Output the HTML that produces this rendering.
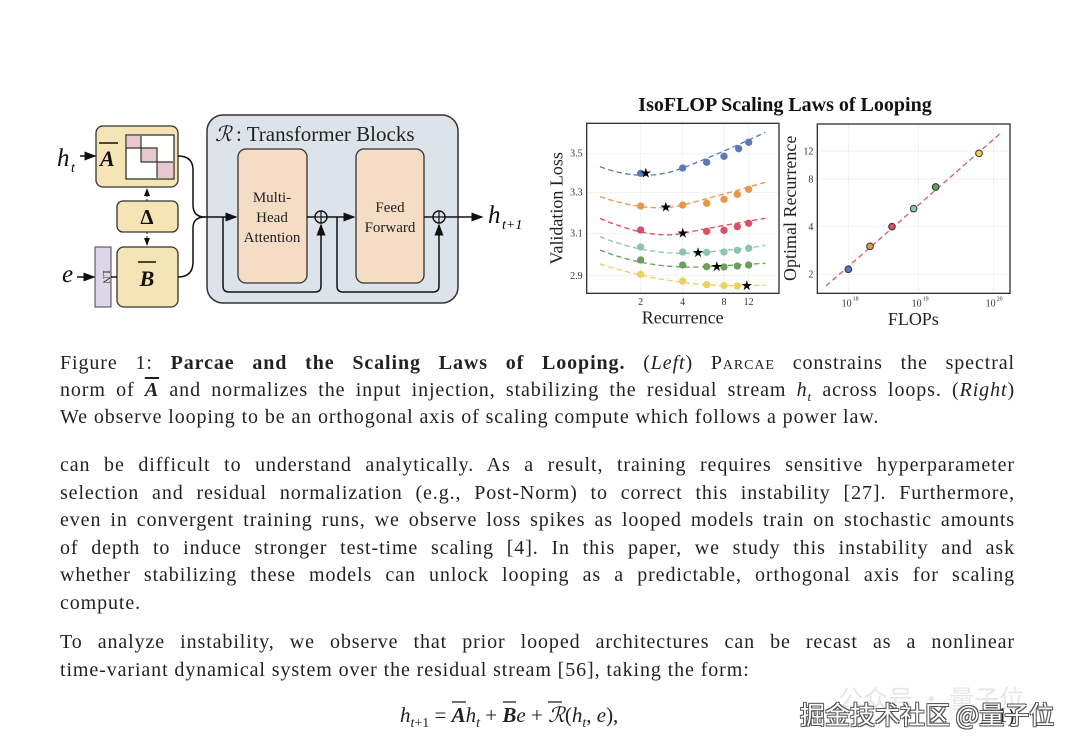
<!DOCTYPE html>
<html><head><meta charset="utf-8"><style>
html,body{margin:0;padding:0;background:#fff;}
body{width:1080px;height:747px;position:relative;overflow:hidden;font-family:"Liberation Serif",serif;color:#222;}
.ln{position:absolute;left:60px;width:955px;font-size:20px;letter-spacing:0.9px;line-height:27px;white-space:nowrap;text-align:justify;text-align-last:justify;}
.ln.l{text-align-last:left;}
.sc{font-variant:small-caps;}
.ov{text-decoration:overline;font-weight:bold;font-style:italic;}
.wm{position:absolute;left:800px;top:696px;font-family:"Noto Sans CJK SC",sans-serif;font-size:25px;color:#fff;text-shadow:-1px -1px 0 #555,1px -1px 0 #555,-1px 1px 0 #555,1px 1px 0 #555;}
.wm0{position:absolute;left:838px;top:680px;font-family:"Noto Sans CJK SC",sans-serif;font-size:25px;color:#e6e6e6;}
</style></head><body>
<svg width="1080" height="747" style="position:absolute;left:0;top:0" font-family="Liberation Serif, serif">
<defs><marker id="ar" markerWidth="8" markerHeight="8" refX="7" refY="4" orient="auto"><path d="M0,1 L8,4 L0,7z" fill="#111"/></marker></defs>
<rect x="207" y="115" width="251" height="188" rx="16" fill="#dde3ea" stroke="#333" stroke-width="1.5"/>
<text x="215" y="141" font-size="21" fill="#222" font-style="italic">ℛ</text><text x="236" y="141" font-size="21" fill="#222">: Transformer Blocks</text>
<rect x="238" y="149" width="69" height="134" rx="8" fill="#f5dcc5" stroke="#333" stroke-width="1.3"/>
<rect x="356" y="149" width="68" height="134" rx="8" fill="#f5dcc5" stroke="#333" stroke-width="1.3"/>
<text font-size="15" text-anchor="middle" fill="#222"><tspan x="272" y="202">Multi-</tspan><tspan x="272" y="222">Head</tspan><tspan x="272" y="242">Attention</tspan><tspan x="390" y="212">Feed</tspan><tspan x="390" y="232">Forward</tspan></text>
<rect x="96" y="126" width="82" height="61" rx="7" fill="#f5e4b5" stroke="#333" stroke-width="1.3"/>
<rect x="126" y="135" width="48" height="44" fill="#fff" stroke="#333" stroke-width="1.3"/>
<rect x="127" y="136" width="14" height="12" fill="#e8c8cc"/><rect x="141" y="148" width="16" height="14" fill="#e8c8cc"/><rect x="157" y="162" width="16" height="16" fill="#e8c8cc"/>
<path d="M126,148 H141 V162 H157 V178" fill="none" stroke="#333" stroke-width="1.2"/><path d="M141,136 V148 H157 V162 H173" fill="none" stroke="#333" stroke-width="1.2"/>
<text x="100" y="166" font-size="22" font-weight="bold" font-style="italic" fill="#111">A</text><line x1="99" y1="143" x2="118" y2="143" stroke="#111" stroke-width="1.5"/>
<rect x="117" y="201" width="61" height="31" rx="6" fill="#f5e4b5" stroke="#333" stroke-width="1.3"/>
<text x="147" y="224" font-size="21" font-weight="bold" text-anchor="middle" fill="#111">Δ</text>
<rect x="117" y="247" width="61" height="60" rx="7" fill="#f5e4b5" stroke="#333" stroke-width="1.3"/>
<text x="147" y="286" font-size="22" font-weight="bold" font-style="italic" text-anchor="middle" fill="#111">B</text><line x1="138" y1="262" x2="156" y2="262" stroke="#111" stroke-width="1.5"/>
<rect x="95" y="247" width="16" height="60" fill="#ddd5e8" stroke="#444" stroke-width="1"/>
<text x="103" y="277" font-size="10" text-anchor="middle" transform="rotate(90 103 277)" fill="#333">LN</text>
<line x1="147" y1="201" x2="147" y2="189" stroke="#222" stroke-dasharray="2,2" marker-end="url(#ar)"/>
<line x1="147" y1="232" x2="147" y2="245" stroke="#222" stroke-dasharray="2,2" marker-end="url(#ar)"/>
<text x="57" y="166" font-size="25" font-style="italic" fill="#111">h</text><text x="71" y="172" font-size="14" font-style="italic">t</text>
<line x1="80" y1="156" x2="95" y2="156" stroke="#111" stroke-width="1.5" marker-end="url(#ar)"/>
<text x="62" y="282" font-size="25" font-style="italic" fill="#111">e</text>
<line x1="77" y1="277" x2="94" y2="277" stroke="#111" stroke-width="1.5" marker-end="url(#ar)"/>
<line x1="111" y1="277" x2="117" y2="277" stroke="#111" stroke-width="1.5"/>
<path d="M178,156 Q193,156 193,170 V205 Q193,217 205,217" fill="none" stroke="#111" stroke-width="1.5"/>
<path d="M178,277 Q193,277 193,262 V228 Q193,217 205,217" fill="none" stroke="#111" stroke-width="1.5"/>
<line x1="205" y1="217" x2="236" y2="217" stroke="#111" stroke-width="1.5" marker-end="url(#ar)"/>
<path d="M223,217 V286 Q223,292 229,292 H315 Q321,292 321,286 V225" fill="none" stroke="#111" stroke-width="1.5" marker-end="url(#ar)"/>
<circle cx="321" cy="217" r="6" fill="none" stroke="#111" stroke-width="1.4"/><path d="M315,217H327M321,211V223" stroke="#111" stroke-width="1.2"/>
<line x1="307" y1="217" x2="315" y2="217" stroke="#111" stroke-width="1.5"/>
<line x1="327" y1="217" x2="354" y2="217" stroke="#111" stroke-width="1.5" marker-end="url(#ar)"/>
<path d="M337,217 V286 Q337,292 343,292 H433 Q439,292 439,286 V225" fill="none" stroke="#111" stroke-width="1.5" marker-end="url(#ar)"/>
<circle cx="439" cy="217" r="6" fill="none" stroke="#111" stroke-width="1.4"/><path d="M433,217H445M439,211V223" stroke="#111" stroke-width="1.2"/>
<line x1="424" y1="217" x2="433" y2="217" stroke="#111" stroke-width="1.5"/>
<line x1="445" y1="217" x2="482" y2="217" stroke="#111" stroke-width="1.5" marker-end="url(#ar)"/>
<text x="488" y="223" font-size="25" font-style="italic" fill="#111">h</text><text x="502" y="229" font-size="14" font-style="italic">t+1</text>
<text x="785" y="111" font-size="20" font-weight="bold" text-anchor="middle" fill="#111">IsoFLOP Scaling Laws of Looping</text>
<g transform="translate(540,90) scale(0.33333)">
<rect x="140" y="100" width="577" height="510" fill="#fff"/>
<g stroke="#ebebeb" stroke-width="2"><line x1="302" y1="100" x2="302" y2="610"/><line x1="428" y1="100" x2="428" y2="610"/><line x1="552" y1="100" x2="552" y2="610"/><line x1="626" y1="100" x2="626" y2="610"/><line x1="140" y1="190" x2="717" y2="190"/><line x1="140" y1="307" x2="717" y2="307"/><line x1="140" y1="430" x2="717" y2="430"/><line x1="140" y1="557" x2="717" y2="557"/></g>
<rect x="140" y="100" width="577" height="510" fill="none" stroke="#333" stroke-width="4"/>
<g font-size="30" fill="#333" text-anchor="end"><text x="128" y="200">3.5</text><text x="128" y="317">3.3</text><text x="128" y="440">3.1</text><text x="128" y="567">2.9</text></g>
<g font-size="30" fill="#333" text-anchor="middle"><text x="302" y="645">2</text><text x="428" y="645">4</text><text x="552" y="645">8</text><text x="626" y="645">12</text></g>
<text x="428" y="700" font-size="54" text-anchor="middle" fill="#222">Recurrence</text>
<text x="0" y="0" font-size="54" text-anchor="middle" fill="#222" transform="translate(68,355) rotate(-90)">Validation Loss</text>
<g fill="none" stroke-width="4" stroke-dasharray="16,10">
<path stroke="#5a7bb5" d="M180,230 Q310,280 428,234 T676,127"/>
<path stroke="#e8964a" d="M180,320 Q330,370 428,345 T676,277"/>
<path stroke="#d6506a" d="M180,385 Q330,450 428,430 T676,385"/>
<path stroke="#8cc4b4" d="M180,440 Q330,500 476,488 T676,466"/>
<path stroke="#6aa05a" d="M180,480 Q330,540 500,530 T676,520"/>
<path stroke="#ecd060" d="M180,522 Q360,580 552,587 L676,586"/>
</g>
<g fill="#5a7bb5"><circle cx="302" cy="250" r="11"/><circle cx="428" cy="234" r="11"/><circle cx="500" cy="217" r="11"/><circle cx="552" cy="199" r="11"/><circle cx="596" cy="176" r="11"/><circle cx="626" cy="157" r="11"/></g>
<g fill="#e8964a"><circle cx="302" cy="348" r="11"/><circle cx="428" cy="345" r="11"/><circle cx="500" cy="340" r="11"/><circle cx="552" cy="328" r="11"/><circle cx="592" cy="313" r="11"/><circle cx="626" cy="298" r="11"/></g>
<g fill="#d6506a"><circle cx="302" cy="420" r="11"/><circle cx="500" cy="424" r="11"/><circle cx="552" cy="421" r="11"/><circle cx="592" cy="410" r="11"/><circle cx="626" cy="400" r="11"/></g>
<g fill="#8cc4b4"><circle cx="302" cy="471" r="11"/><circle cx="428" cy="486" r="11"/><circle cx="500" cy="487" r="11"/><circle cx="552" cy="486" r="11"/><circle cx="592" cy="481" r="11"/><circle cx="626" cy="475" r="11"/></g>
<g fill="#6aa05a"><circle cx="302" cy="510" r="11"/><circle cx="428" cy="525" r="11"/><circle cx="500" cy="530" r="11"/><circle cx="552" cy="531" r="11"/><circle cx="592" cy="528" r="11"/><circle cx="626" cy="525" r="11"/></g>
<g fill="#ecd060"><circle cx="302" cy="553" r="11"/><circle cx="428" cy="573" r="11"/><circle cx="500" cy="584" r="11"/><circle cx="552" cy="587" r="11"/><circle cx="592" cy="588" r="11"/></g>
<g font-size="40" text-anchor="middle" fill="#000"><text x="317" y="262">★</text><text x="377" y="364">★</text><text x="428" y="442">★</text><text x="474" y="501">★</text><text x="530" y="543">★</text><text x="620" y="600">★</text></g>
</g>
<g transform="translate(780,110) scale(0.33333)">
<g stroke="#ebebeb" stroke-width="2"><line x1="205" y1="42" x2="205" y2="550"/><line x1="415" y1="42" x2="415" y2="550"/><line x1="640" y1="42" x2="640" y2="550"/><line x1="112" y1="123" x2="690" y2="123"/><line x1="112" y1="207" x2="690" y2="207"/><line x1="112" y1="350" x2="690" y2="350"/><line x1="112" y1="493" x2="690" y2="493"/></g>
<rect x="112" y="42" width="578" height="508" fill="none" stroke="#333" stroke-width="4"/>
<g font-size="30" fill="#333" text-anchor="end"><text x="100" y="133">12</text><text x="100" y="217">8</text><text x="100" y="360">4</text><text x="100" y="503">2</text></g>
<g font-size="30" fill="#333" text-anchor="middle"><text x="200" y="590">10</text><text x="410" y="590">10</text><text x="632" y="590">10</text></g>
<g font-size="18" fill="#333"><text x="218" y="572">18</text><text x="428" y="572">19</text><text x="650" y="572">20</text></g>
<text x="400" y="645" font-size="54" text-anchor="middle" fill="#222">FLOPs</text>
<text x="0" y="0" font-size="54" text-anchor="middle" fill="#222" transform="translate(48,295) rotate(-90)">Optimal Recurrence</text>
<line x1="138" y1="528" x2="666" y2="66" stroke="#d06070" stroke-width="4" stroke-dasharray="16,10"/>
<g stroke="#333" stroke-width="3"><circle cx="205" cy="478" r="10" fill="#5a7bb5"/><circle cx="270" cy="409" r="10" fill="#e8964a"/><circle cx="336" cy="350" r="10" fill="#d6506a"/><circle cx="401" cy="296" r="10" fill="#8cc4b4"/><circle cx="467" cy="231" r="10" fill="#6aa05a"/><circle cx="597" cy="130" r="10" fill="#ecd060"/></g>
</g>
<text x="400" y="722" font-size="21" fill="#222"><tspan font-style="italic">h</tspan><tspan font-size="14" dy="5" font-style="italic">t</tspan><tspan font-size="14">+1</tspan><tspan dy="-5"> = </tspan><tspan font-weight="bold" font-style="italic">A</tspan><tspan font-style="italic">h</tspan><tspan font-size="14" dy="5" font-style="italic">t</tspan><tspan dy="-5"> + </tspan><tspan font-weight="bold" font-style="italic">B</tspan><tspan font-style="italic">e</tspan><tspan> + </tspan><tspan font-style="italic">ℛ</tspan><tspan>(</tspan><tspan font-style="italic">h</tspan><tspan font-size="14" dy="5" font-style="italic">t</tspan><tspan dy="-5">, </tspan><tspan font-style="italic">e</tspan><tspan>),</tspan></text>
<line x1="452" y1="702" x2="466" y2="702" stroke="#222" stroke-width="1.3"/><line x1="503" y1="702" x2="516" y2="702" stroke="#222" stroke-width="1.3"/><line x1="548" y1="702" x2="562" y2="702" stroke="#222" stroke-width="1.3"/>
<text x="990" y="722" font-size="21" fill="#222">(1)</text>
</svg>
<div class="ln" style="top:350px">Figure 1: <b>Parcae and the Scaling Laws of Looping.</b> (<i>Left</i>) <span class="sc">Parcae</span> constrains the spectral</div>
<div class="ln" style="top:377px">norm of <span class="ov">A</span> and normalizes the input injection, stabilizing the residual stream <i>h<sub style="font-size:13px">t</sub></i> across loops. (<i>Right</i>)</div>
<div class="ln l" style="top:404px">We observe looping to be an orthogonal axis of scaling compute which follows a power law.</div>
<div class="ln" style="top:452px">can be difficult to understand analytically. As a result, training requires sensitive hyperparameter</div>
<div class="ln" style="top:480px">selection and residual normalization (e.g., Post-Norm) to correct this instability [27]. Furthermore,</div>
<div class="ln" style="top:507px">even in convergent training runs, we observe loss spikes as looped models train on stochastic amounts</div>
<div class="ln" style="top:535px">of depth to induce stronger test-time scaling [4]. In this paper, we study this instability and ask</div>
<div class="ln" style="top:562px">whether stabilizing these models can unlock looping as a predictable, orthogonal axis for scaling</div>
<div class="ln l" style="top:590px">compute.</div>
<div class="ln" style="top:629px">To analyze instability, we observe that prior looped architectures can be recast as a nonlinear</div>
<div class="ln l" style="top:657px">time-variant dynamical system over the residual stream [56], taking the form:</div>
<div class="wm0">公众号 · 量子位</div>
<div class="wm">掘金技术社区 @量子位</div>
</body></html>
